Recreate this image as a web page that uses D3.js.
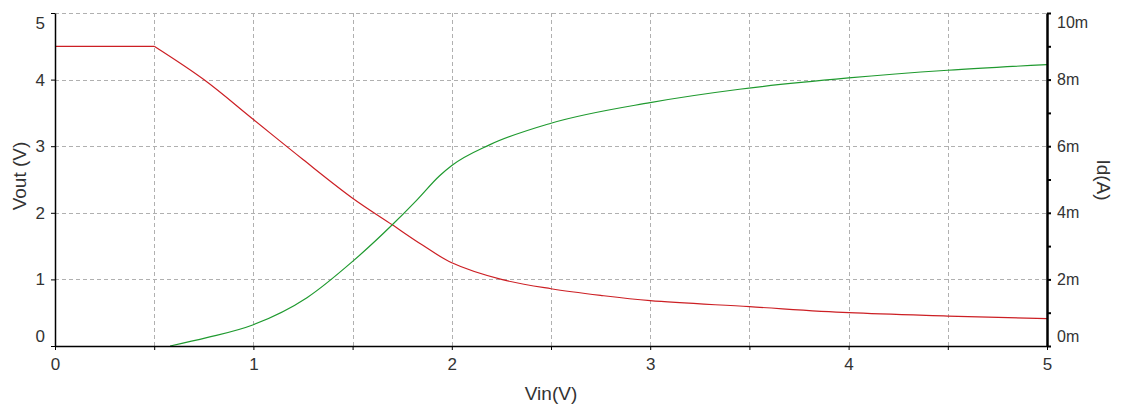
<!DOCTYPE html>
<html>
<head>
<meta charset="utf-8">
<script src="https://cdn.jsdelivr.net/npm/d3@7"></script>
<style>
  body { margin: 0; background: #fff; }
  text { font-family: "Liberation Sans", Arial, sans-serif; fill: #333; }
</style>
</head>
<body>
<svg id="chart" width="1121" height="407"></svg>
<script>
let width = 1121;
let height = 407;
let margins = {top: 13, bottom: 61, left: 55, right: 74};

// Vout transfer curve (V)
const voutX = [0, 0.5, 0.75, 1.0, 1.25, 1.5, 1.7, 1.85, 2.0, 2.25, 2.5, 2.75, 3.0, 3.5, 4.0, 4.5, 5.0];
const voutY = [4.5, 4.5, 4.0, 3.4, 2.8, 2.22, 1.82, 1.52, 1.25, 1.0, 0.86, 0.76, 0.68, 0.59, 0.5, 0.45, 0.41];

// drain current (mA)
const idX = [0.58, 0.765, 1.0, 1.27, 1.5, 1.7, 1.82, 1.94, 2.0, 2.19, 2.5, 3.0, 3.45, 4.0, 4.5, 5.0];
const idY = [0, 0.25, 0.64, 1.45, 2.54, 3.64, 4.36, 5.12, 5.42, 6.04, 6.69, 7.31, 7.71, 8.05, 8.28, 8.45];

const xTicks = [0, 1, 2, 3, 4, 5];
const xGrid = [0.5, 1, 1.5, 2, 2.5, 3, 3.5, 4, 4.5];
const yTicks = [0, 1, 2, 3, 4, 5];
const rTicks = [0, 2, 4, 6, 8, 10];

function make_scales() {
	return {
		x: d3.scaleLinear().domain([0, 5]).range([margins.left, width - margins.right]),
		y: d3.scaleLinear().domain([0, 5]).range([height - margins.bottom, margins.top]),
		r: d3.scaleLinear().domain([0, 10]).range([height - margins.bottom, margins.top])
	};
}

function draw_grid(svg, s) {
	const g = svg.append("g");
	g.selectAll("line.v").data(xGrid).enter().append("line")
		.attr("x1", d => Math.round(s.x(d)) + 0.5).attr("x2", d => Math.round(s.x(d)) + 0.5)
		.attr("y1", s.y(5)).attr("y2", s.y(0))
		.attr("stroke", "#b0b0b0").attr("stroke-dasharray", "4,3");
	g.selectAll("line.h").data(yTicks.slice(1)).enter().append("line")
		.attr("y1", d => Math.round(s.y(d)) + 0.5).attr("y2", d => Math.round(s.y(d)) + 0.5)
		.attr("x1", s.x(0)).attr("x2", s.x(5))
		.attr("stroke", "#b0b0b0").attr("stroke-dasharray", "4,3");
}

function draw_lines(svg, s) {
	const vout = voutX.map((d, i) => [d, voutY[i]]);
	const id = idX.map((d, i) => [d, idY[i]]);
	// sharp knee at 0.5 V, so keep the flat part straight
	svg.append("path")
		.attr("d", d3.line().curve(d3.curveCatmullRom.alpha(0.5)).x(d => s.x(d[0])).y(d => s.y(d[1]))(vout.slice(1)))
		.attr("fill", "none").attr("stroke", "#cc1f24").attr("stroke-width", 1.2);
	svg.append("path")
		.attr("d", d3.line().x(d => s.x(d[0])).y(d => s.y(d[1]))(vout.slice(0, 2)))
		.attr("fill", "none").attr("stroke", "#cc1f24").attr("stroke-width", 1.2);
	svg.append("path")
		.attr("d", d3.line().curve(d3.curveMonotoneX).x(d => s.x(d[0])).y(d => s.r(d[1]))(id))
		.attr("fill", "none").attr("stroke", "#1f9a2f").attr("stroke-width", 1.2);
}

function draw_axes(svg, s) {
	const bottom = svg.append("g")
		.attr("transform", `translate(0,${s.y(0)})`)
		.call(d3.axisBottom(s.x).tickValues([0, 0.5, 1, 1.5, 2, 2.5, 3, 3.5, 4, 4.5, 5])
			.tickSize(4).tickSizeOuter(0).tickFormat(d => xTicks.includes(d) ? d : ""));
	bottom.attr("font-size", 17).attr("font-family", null);
	bottom.select(".domain").attr("stroke", "#000").attr("stroke-width", 1.5);
	bottom.selectAll("text").attr("y", 12).style("fill", "#333");

	const left = svg.append("g")
		.attr("transform", `translate(${s.x(0)},0)`)
		.call(d3.axisLeft(s.y).tickValues(yTicks).tickSize(4).tickSizeOuter(0).tickFormat(d3.format("d")));
	left.attr("font-size", 17).attr("font-family", null);
	left.select(".domain").attr("stroke", "#000").attr("stroke-width", 1.5);
	left.selectAll("text").attr("x", -10).style("fill", "#333")
		.attr("dy", d => d === 0 ? "-0.28em" : d === 5 ? "0.92em" : "0.32em");

	const right = svg.append("g")
		.attr("transform", `translate(${s.x(5)},0)`)
		.call(d3.axisRight(s.r).tickValues(d3.range(0, 11)).tickSize(4).tickSizeOuter(0)
			.tickFormat(d => rTicks.includes(d) ? d + "m" : ""));
	right.attr("font-size", 16).attr("font-family", null);
	right.select(".domain").attr("stroke", "#000").attr("stroke-width", 2.5);
	right.selectAll("line").attr("stroke-width", 2);
	right.selectAll("text").attr("x", 10).style("fill", "#333")
		.attr("dy", d => d === 0 ? "-0.28em" : d === 10 ? "0.92em" : "0.32em");

	svg.append("text").attr("transform", "translate(26,176) rotate(-90)")
		.attr("text-anchor", "middle").attr("font-size", 19).text("Vout (V)");
	svg.append("text").attr("transform", "translate(1097,180) rotate(90)")
		.attr("text-anchor", "middle").attr("font-size", 19).text("Id(A)");
	svg.append("text").attr("x", 551).attr("y", 400)
		.attr("text-anchor", "middle").attr("font-size", 19).text("Vin(V)");
}

function main() {
	const svg = d3.select("#chart");
	const s = make_scales();
	draw_grid(svg, s);
	draw_lines(svg, s);
	draw_axes(svg, s);
}

main();
</script>
</body>
</html>
